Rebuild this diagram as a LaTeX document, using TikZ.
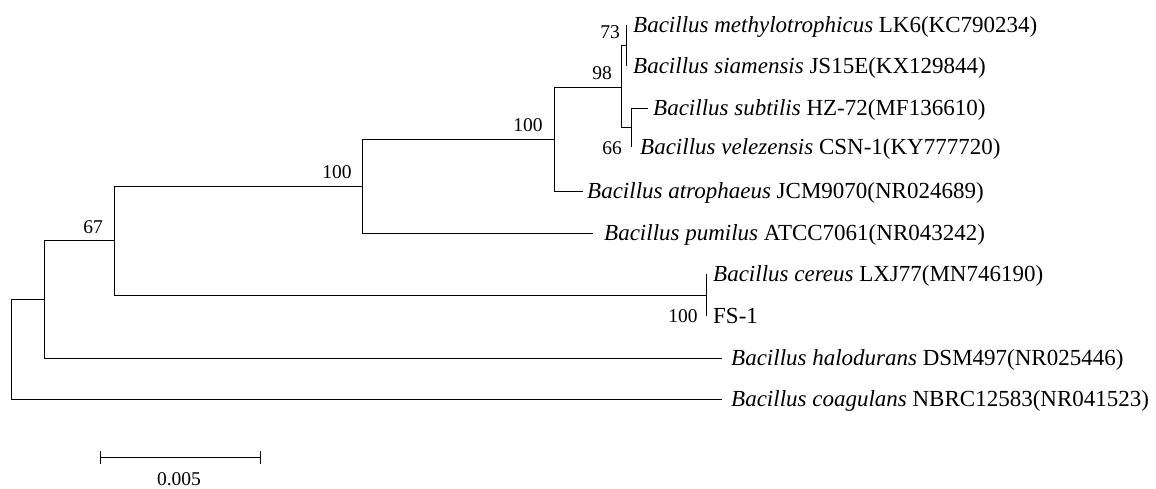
\documentclass[tikz,border=0pt]{standalone}
\usepackage{fontspec}
\setmainfont{Liberation Serif}
\begin{document}
\begin{tikzpicture}[x=1pt,y=-1pt,
  branch/.style={line width=1pt,black},
  taxon/.style={anchor=base west,inner sep=0pt,font=\fontsize{23}{23}\selectfont},
  boot/.style={anchor=center,inner sep=0pt,font=\fontsize{19.5}{19.5}\selectfont}]
\useasboundingbox (0,0) rectangle (1156,488);
% internal nodes
\coordinate (root) at (11,349);
\coordinate (nHal) at (44,299.5);
\coordinate (n67) at (114,240.5);
\coordinate (nB) at (362,186);
\coordinate (nA) at (554,139);
\coordinate (n98) at (621.7,87);
\coordinate (n73) at (626,45.5);
\coordinate (n66) at (631.7,127.5);
\coordinate (nC) at (706,295);
% leaf ends
\coordinate (lMeth) at (626,25);
\coordinate (lSiam) at (626,66);
\coordinate (lSubt) at (648,108);
\coordinate (lVele) at (631.7,147);
\coordinate (lAtro) at (583,191);
\coordinate (lPumi) at (593,233);
\coordinate (lCere) at (706,274);
\coordinate (lFS) at (706,316);
\coordinate (lHalo) at (722,358);
\coordinate (lCoag) at (722,399);
% branches
\draw[branch] (root) |- (nHal);
\draw[branch] (root) |- (lCoag);
\draw[branch] (nHal) |- (n67);
\draw[branch] (nHal) |- (lHalo);
\draw[branch] (n67) |- (nB);
\draw[branch] (n67) |- (nC);
\draw[branch] (nB) |- (nA);
\draw[branch] (nB) |- (lPumi);
\draw[branch] (nA) |- (n98);
\draw[branch] (nA) |- (lAtro);
\draw[branch] (n98) |- (n73);
\draw[branch] (n98) |- (n66);
\draw[branch] (n73) |- (lMeth);
\draw[branch] (n73) |- (lSiam);
\draw[branch] (n66) |- (lSubt);
\draw[branch] (n66) |- (lVele);
\draw[branch] (nC) |- (lCere);
\draw[branch] (nC) |- (lFS);
% taxa
\node[taxon] (tMeth) at (633,32.5) {\textit{Bacillus methylotrophicus} LK6(KC790234)};
\node[taxon] (tSiam) at (633,73.5) {\textit{Bacillus siamensis} JS15E(KX129844)};
\node[taxon] (tSubt) at (653,115.5) {\textit{Bacillus subtilis} HZ-72(MF136610)};
\node[taxon] (tVele) at (640,154.5) {\textit{Bacillus velezensis} CSN-1(KY777720)};
\node[taxon] (tAtro) at (587,198.5) {\textit{Bacillus atrophaeus} JCM9070(NR024689)};
\node[taxon] (tPumi) at (604,240.5) {\textit{Bacillus pumilus} ATCC7061(NR043242)};
\node[taxon] (tCere) at (713,281.5) {\textit{Bacillus cereus} LXJ77(MN746190)};
\node[taxon] (tFS) at (713,323.5) {FS-1};
\node[taxon] (tHalo) at (731,365.5) {\textit{Bacillus halodurans} DSM497(NR025446)};
\node[taxon] (tCoag) at (731,406.5) {\textit{Bacillus coagulans} NBRC12583(NR041523)};
% bootstrap values
\node[boot] (b73) at (610,32) {73};
\node[boot] (b98) at (602,73) {98};
\node[boot] (b66) at (612,148) {66};
\node[boot] (bA) at (528,125) {100};
\node[boot] (bB) at (337,172) {100};
\node[boot] (b67) at (93,227) {67};
\node[boot] (bC) at (683,316) {100};
% scale bar
\coordinate (sbL) at (100,457.7);
\coordinate (sbR) at (260,457.7);
\draw[branch] (sbL) -- (sbR);
\draw[branch] ([yshift=-6.5pt]sbL) -- ([yshift=6.5pt]sbL);
\draw[branch] ([yshift=-6.5pt]sbR) -- ([yshift=6.5pt]sbR);
\node[boot] (sbT) at (179,479) {0.005};
\end{tikzpicture}
\end{document}
